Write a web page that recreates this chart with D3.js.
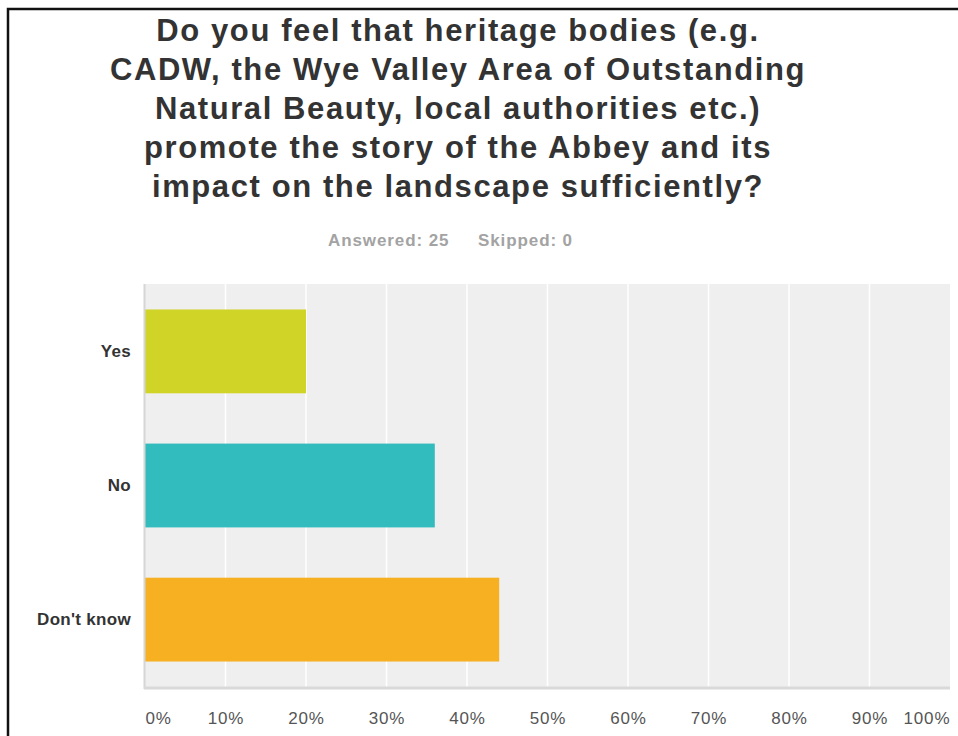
<!DOCTYPE html>
<html><head><meta charset="utf-8">
<script src="https://cdnjs.cloudflare.com/ajax/libs/d3/7.8.5/d3.min.js"></script>
<style>html,body{margin:0;padding:0;background:#fff;}svg{display:block;}</style>
</head><body>
<script>
const titleLines = [
  "Do you feel that heritage bodies (e.g.",
  "CADW, the Wye Valley Area of Outstanding",
  "Natural Beauty, local authorities etc.)",
  "promote the story of the Abbey and its",
  "impact on the landscape sufficiently?"
];
const subtitleParts = ["Answered: 25", "Skipped: 0"];
const categories = ["Yes", "No", "Don't know"];
const values = [20, 36, 44];
const colors = ["#cfd427", "#33bcbe", "#f6b021"];
const ticks = [0,10,20,30,40,50,60,70,80,90,100];

(function(){
const W = 958, H = 736;
const FONT = "'Liberation Sans', Arial, sans-serif";
const svg = d3.select("body").append("svg").attr("width", W).attr("height", H);

// frame
svg.append("path").attr("d", "M8,736 V9 H958").attr("fill","none").attr("stroke","#111").attr("stroke-width",2.5);

// title
const t = svg.append("text").attr("text-anchor","middle")
  .attr("font-family",FONT).attr("font-weight","bold")
  .attr("font-size",31).attr("letter-spacing",1.6).attr("fill","#333");
titleLines.forEach((l,i)=>{
  t.append("tspan").attr("x",458).attr("y",41+i*39).text(l);
});
// subtitle
const st = svg.append("text").attr("y",246)
  .attr("font-family",FONT).attr("font-weight","bold")
  .attr("font-size",17).attr("letter-spacing",0.9).attr("fill","#a3a3a3");
st.append("tspan").attr("x",328).text(subtitleParts[0]);
st.append("tspan").attr("x",478).text(subtitleParts[1]);

const pl = 145, pr = 950, pt = 284, pb = 687;
const x = d3.scaleLinear().domain([0,100]).range([pl,pr]);
const y = d3.scaleBand().domain(categories).range([pt,pb]).paddingInner(0.375).paddingOuter(0.19);

svg.append("rect").attr("x",pl).attr("y",pt).attr("width",pr-pl).attr("height",pb-pt).attr("fill","#efefef");

svg.append("g").selectAll("line").data(ticks.slice(1,-1)).join("line")
  .attr("x1",d=>x(d)).attr("x2",d=>x(d)).attr("y1",pt).attr("y2",pb)
  .attr("stroke","#fff").attr("stroke-width",1.5);

svg.append("g").selectAll("rect").data(values).join("rect")
  .attr("x",x(0)).attr("y",(d,i)=>y(categories[i]))
  .attr("width",d=>x(d)-x(0)).attr("height",y.bandwidth())
  .attr("fill",(d,i)=>colors[i]);

// axis lines
svg.append("line").attr("x1",pl-0.5).attr("x2",pl-0.5).attr("y1",pt).attr("y2",pb+2).attr("stroke","#d6d6d6").attr("stroke-width",2);
svg.append("line").attr("x1",pl-1).attr("x2",pr).attr("y1",pb+1).attr("y2",pb+1).attr("stroke","#d9d9d9").attr("stroke-width",3);

// x axis labels
const xAxis = d3.axisBottom(x).tickValues(ticks).tickFormat(d=>d+"%").tickSize(0).tickPadding(0);
const gx = svg.append("g").attr("transform",`translate(0,${pb+25})`).call(xAxis);
gx.select(".domain").remove();
gx.selectAll("text").attr("font-family",FONT).attr("font-size",17).attr("letter-spacing",0.9)
  .attr("fill","#555").attr("dy","0.71em")
  .attr("text-anchor",d=>d===0?"start":(d===100?"end":"middle"));

// y labels
const yAxis = d3.axisLeft(y).tickSize(0).tickPadding(0);
const gy = svg.append("g").attr("transform",`translate(${pl-14},0)`).call(yAxis);
gy.select(".domain").remove();
gy.selectAll("text").attr("font-family",FONT).attr("font-size",17).attr("letter-spacing",0.3)
  .attr("font-weight","bold").attr("fill","#333");
})();
</script>
</body></html>
